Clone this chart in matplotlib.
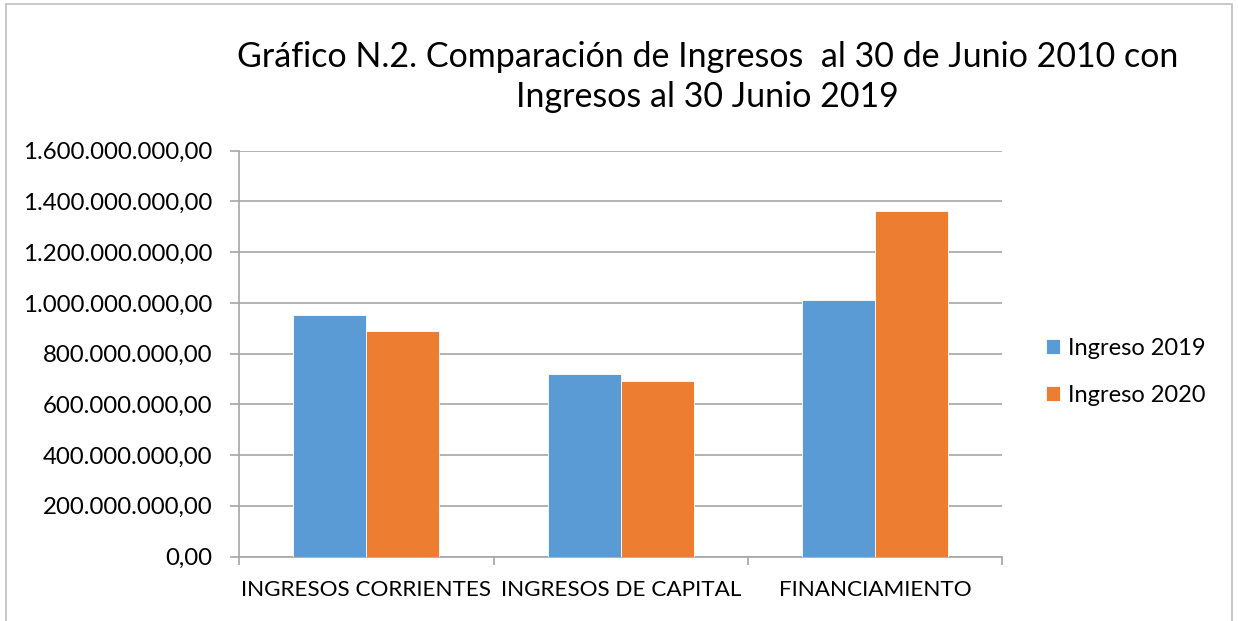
import matplotlib
matplotlib.use("Agg")
import matplotlib.pyplot as plt
import numpy as np
from matplotlib.ticker import FuncFormatter, FixedLocator
from matplotlib.patches import Rectangle

# Data
categorias = ["INGRESOS CORRIENTES", "INGRESOS DE CAPITAL", "FINANCIAMIENTO"]
ingreso_2019 = [954_000_000, 720_000_000, 1_011_000_000]
ingreso_2020 = [889_000_000, 693_000_000, 1_364_000_000]
series = ["Ingreso 2019", "Ingreso 2020"]
colores = ["#5B9BD5", "#ED7D31"]

plt.rcParams["font.family"] = ["Lato", "DejaVu Sans"]

fig = plt.figure(figsize=(12.38, 6.21), dpi=100)
ax = fig.add_axes([239.3 / 1238, 1 - 556.5 / 621, 763 / 1238, (556.5 - 150.7) / 621])

# outer chart border
fig.patches.append(Rectangle((6 / 1238, -0.1), 1226 / 1238, 1.1 - 4 / 621,
                             transform=fig.transFigure, fill=False,
                             edgecolor="#BFBFBF", linewidth=1.2))

x = np.arange(len(categorias))
w = 0.287
ax.bar(x - w / 2, ingreso_2019, w, color=colores[0], edgecolor="white", linewidth=0.6,
       label=series[0], zorder=3)
ax.bar(x + w / 2, ingreso_2020, w, color=colores[1], edgecolor="white", linewidth=0.6,
       label=series[1], zorder=3)

ax.set_xlim(-0.5, 2.5)
ax.set_ylim(0, 1_600_000_000)
ax.set_yticks(np.arange(0, 1_600_000_001, 200_000_000))


def fmt_es(v, pos):
    s = f"{v:,.2f}"
    return s.replace(",", "X").replace(".", ",").replace("X", ".")


ax.yaxis.set_major_formatter(FuncFormatter(fmt_es))
ax.grid(axis="y", color="#A6A6A6", linewidth=1.2, zorder=0)

ax.set_xticks(x)
ax.set_xticklabels(categorias)
ax.xaxis.set_minor_locator(FixedLocator([-0.5, 0.5, 1.5, 2.5]))
ax.tick_params(axis="x", which="major", length=0, pad=17, labelsize=16.2)
ax.tick_params(axis="x", which="minor", length=6, color="#A6A6A6", width=1.2)
ax.tick_params(axis="y", length=6.5, color="#A6A6A6", width=1.2, pad=13, labelsize=17.3)

for s in ["top", "right"]:
    ax.spines[s].set_visible(False)
for s in ["left", "bottom"]:
    ax.spines[s].set_color("#A6A6A6")
    ax.spines[s].set_linewidth(1.2)

fig.text(0.5715, 1 - 77 / 621,
         "Gráfico N.2. Comparación de Ingresos  al 30 de Junio 2010 con\nIngresos al 30 Junio 2019",
         ha="center", va="center", fontsize=24.5, linespacing=1.3)

ax.legend(loc="center left", bbox_to_anchor=((1046 - 239.3) / 763, 0.455), frameon=False,
          fontsize=17, handlelength=0.6, handleheight=0.6, handletextpad=0.35,
          labelspacing=1.1, borderaxespad=0, borderpad=0)

fig.savefig("out.png", dpi=100)
